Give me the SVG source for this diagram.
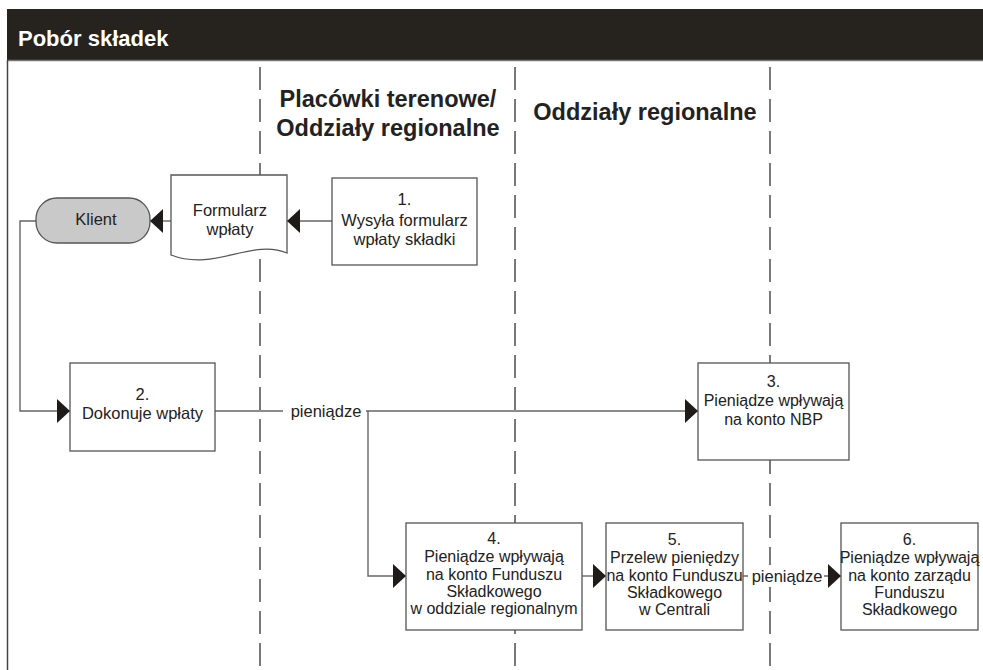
<svg xmlns="http://www.w3.org/2000/svg" width="983" height="670" viewBox="0 0 983 670">
  <style>
    text { font-family: "Liberation Sans", Arial, sans-serif; fill: #222; }
    .title { font-size: 22px; font-weight: bold; fill: #fff; }
    .lane { font-size: 23.5px; font-weight: bold; }
    .t { font-size: 16.5px; text-anchor: middle; }
    .s { font-size: 16px; text-anchor: middle; }
    .box { fill: #fff; stroke: #555; stroke-width: 1.3; }
    .lanesep { stroke: #333; stroke-width: 1.3; stroke-dasharray: 23 9; fill: none; }
    .conn { stroke: #666; stroke-width: 1.4; fill: none; marker-end: url(#arrow); }
    .plain { stroke: #666; stroke-width: 1.4; fill: none; }
  </style>
  <defs>
    <marker id="arrow" markerUnits="userSpaceOnUse" viewBox="0 0 13 24" markerWidth="13" markerHeight="24" refX="13" refY="12" orient="auto">
      <path d="M0,0 L13,12 L0,24 Z" fill="#1e1b18"/>
    </marker>
  </defs>

  <rect width="983" height="670" fill="#fff"/>

  <!-- header band -->
  <g id="header">
    <rect x="7" y="9" width="976" height="51" fill="#26221d"/>
    <line x1="7" y1="60.5" x2="983" y2="60.5" stroke="#777" stroke-width="1.5"/>
    <line x1="7.5" y1="60" x2="7.5" y2="670" stroke="#444" stroke-width="1.5"/>
    <text class="title" x="18" y="46">Pobór składek</text>
  </g>

  <!-- swimlane separators and titles -->
  <g id="lanes">
    <line class="lanesep" x1="260" y1="67" x2="260" y2="670"/>
    <line class="lanesep" x1="515" y1="67" x2="515" y2="670"/>
    <line class="lanesep" x1="770" y1="67" x2="770" y2="670"/>
    <text class="lane" x="388" y="107" text-anchor="middle">Placówki terenowe/</text>
    <text class="lane" x="388" y="136" text-anchor="middle">Oddziały regionalne</text>
    <text class="lane" x="645" y="120" text-anchor="middle">Oddziały regionalne</text>
  </g>

  <!-- connectors -->
  <g id="connectors">
    <path class="conn" d="M332,221 H287"/>
    <path class="conn" d="M171,221 H150"/>
    <path class="conn" d="M36,221 H20 V411 H70"/>
    <path class="conn" d="M215,411 H698"/>
    <path class="conn" d="M368,411 V576 H406"/>
    <path class="conn" d="M582,576 H606"/>
    <path class="conn" d="M743,576 H841"/>
    <rect x="283" y="400" width="83" height="22" fill="#fff"/>
    <text class="t" x="326" y="417">pieniądze</text>
    <rect x="748" y="565" width="76" height="22" fill="#fff"/>
    <text class="t" x="787" y="582">pieniądze</text>
  </g>

  <g id="klient">
    <rect x="36" y="198" width="114" height="45" rx="21" fill="#c9c9c9" stroke="#555" stroke-width="1.3"/>
    <text class="t" x="96" y="225">Klient</text>
  </g>

  <g id="formularz">
    <path class="box" d="M171,175 H287 V253 C252,238 215,272 171,255 Z"/>
    <text class="t" x="230" y="216">Formularz</text>
    <text class="t" x="230" y="235">wpłaty</text>
  </g>

  <g id="krok1">
    <rect class="box" x="332" y="178" width="145" height="87"/>
    <text class="t" x="404.5" y="205">1.</text>
    <text class="t" x="404.5" y="226">Wysyła formularz</text>
    <text class="t" x="404.5" y="245">wpłaty składki</text>
  </g>

  <g id="krok2">
    <rect class="box" x="70" y="363" width="145" height="88"/>
    <text class="t" x="142.5" y="400">2.</text>
    <text class="t" x="142.5" y="419">Dokonuje wpłaty</text>
  </g>

  <g id="krok3">
    <rect class="box" x="698" y="363" width="151" height="97"/>
    <text class="s" x="773.5" y="387">3.</text>
    <text class="s" x="773.5" y="406">Pieniądze wpływają</text>
    <text class="s" x="773.5" y="425">na konto NBP</text>
  </g>

  <g id="krok4">
    <rect class="box" x="406" y="523" width="176" height="107"/>
    <text class="s" x="494" y="544">4.</text>
    <text class="s" x="494" y="562">Pieniądze wpływają</text>
    <text class="s" x="494" y="580">na konto Funduszu</text>
    <text class="s" x="494" y="597">Składkowego</text>
    <text class="s" x="494" y="614">w oddziale regionalnym</text>
  </g>

  <g id="krok5">
    <rect class="box" x="606" y="523" width="137" height="107"/>
    <text class="s" x="674.5" y="545">5.</text>
    <text class="s" x="674.5" y="563">Przelew pieniędzy</text>
    <text class="s" x="674.5" y="581">na konto Funduszu</text>
    <text class="s" x="674.5" y="598">Składkowego</text>
    <text class="s" x="674.5" y="615">w Centrali</text>
  </g>

  <g id="krok6">
    <rect class="box" x="841" y="523" width="137" height="107"/>
    <text class="s" x="909.5" y="545">6.</text>
    <text class="s" x="909.5" y="563">Pieniądze wpływają</text>
    <text class="s" x="909.5" y="581">na konto zarządu</text>
    <text class="s" x="909.5" y="598">Funduszu</text>
    <text class="s" x="909.5" y="615">Składkowego</text>
  </g>
</svg>
